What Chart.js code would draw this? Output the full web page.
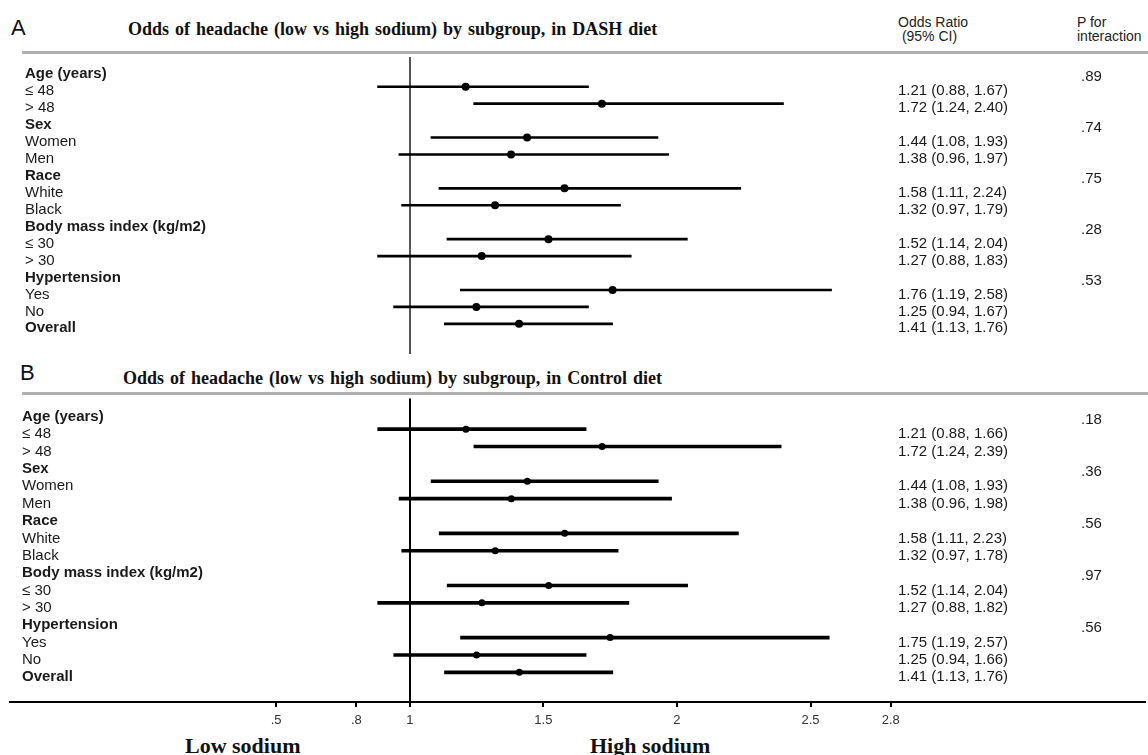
<!DOCTYPE html>
<html>
<head>
<meta charset="utf-8">
<script src="https://cdn.jsdelivr.net/npm/chart.js@4.4.1/dist/chart.umd.min.js"></script>
<style>
  body { margin: 0; background: #fff; width: 1148px; height: 755px; overflow: hidden; position: relative;
         font-family: "Liberation Sans", Arial, sans-serif; color: #111; }
  .abs { position: absolute; white-space: nowrap; }
  .letter { font-size: 22px; line-height: 22px; }
  .title { font-family: "Liberation Serif", "Times New Roman", serif; font-weight: bold; font-size: 18px;
           line-height: 18px; word-spacing: 1.5px; }
  .col { font-size: 14px; line-height: 14px; color: #222; }
  .rule { position: absolute; left: 22px; right: 0; height: 0; border-top: 3px solid #b0b0b0; }
  .side { font-family: "Liberation Serif", "Times New Roman", serif; font-weight: bold; font-size: 22px;
          line-height: 22px; text-decoration: underline; }
  #boxA { position: absolute; left: 0; top: 53px; }
  #boxB { position: absolute; left: 0; top: 395px; }
</style>
</head>
<body>
<div class="abs letter" style="left:11px; top:17px;">A</div>
<div class="abs title" style="left:128px; top:20px;">Odds of headache (low vs high sodium) by subgroup, in DASH diet</div>
<div class="abs col" style="left:898px; top:15px;">Odds Ratio<br>&nbsp;(95% CI)</div>
<div class="abs col" style="left:1077px; top:15px;">P for<br>interaction</div>
<div class="rule" style="top:51px;"></div>

<div class="abs letter" style="left:20px; top:362px;">B</div>
<div class="abs title" style="left:123px; top:369px;">Odds of headache (low vs high sodium) by subgroup, in Control diet</div>
<div class="rule" style="top:392px;"></div>

<div class="abs side" style="left:185px; top:735px;">Low sodium</div>
<div class="abs side" style="left:590px; top:735px;">High sodium</div>

<div id="boxA"><canvas id="chartA" width="1148" height="305"></canvas></div>
<div id="boxB"><canvas id="chartB" width="1148" height="340"></canvas></div>

<script>
// 행 라벨 (두 패널 공통)
const rowLabels = ['Age (years)', '≤ 48', '> 48', 'Sex', 'Women', 'Men', 'Race', 'White', 'Black',
  'Body mass index (kg/m2)', '≤ 30', '> 30', 'Hypertension', 'Yes', 'No', 'Overall'];
const boldRows = ['Age (years)', 'Sex', 'Race', 'Body mass index (kg/m2)', 'Hypertension', 'Overall'];

// A: DASH diet
const dashOR = [null, 1.21, 1.72, null, 1.44, 1.38, null, 1.58, 1.32, null, 1.52, 1.27, null, 1.76, 1.25, 1.41];
const dashLo = [null, 0.88, 1.24, null, 1.08, 0.96, null, 1.11, 0.97, null, 1.14, 0.88, null, 1.19, 0.94, 1.13];
const dashHi = [null, 1.67, 2.40, null, 1.93, 1.97, null, 2.24, 1.79, null, 2.04, 1.83, null, 2.58, 1.67, 1.76];
const dashP = ['.89', '', '', '.74', '', '', '.75', '', '', '.28', '', '', '.53', '', '', ''];

// B: Control diet
const ctrlOR = [null, 1.21, 1.72, null, 1.44, 1.38, null, 1.58, 1.32, null, 1.52, 1.27, null, 1.75, 1.25, 1.41];
const ctrlLo = [null, 0.88, 1.24, null, 1.08, 0.96, null, 1.11, 0.97, null, 1.14, 0.88, null, 1.19, 0.94, 1.13];
const ctrlHi = [null, 1.66, 2.39, null, 1.93, 1.98, null, 2.23, 1.78, null, 2.04, 1.82, null, 2.57, 1.66, 1.76];
const ctrlP = ['.18', '', '', '.36', '', '', '.56', '', '', '.97', '', '', '.56', '', '', ''];

// x축 눈금
const xTicks = [0.5, 0.8, 1, 1.5, 2, 2.5, 2.8];

const sans = '"Liberation Sans", Arial, sans-serif';

// 오른쪽 표 (OR, P) 그리기
const tablePlugin = {
  id: 'tableText',
  afterDraw(chart, args, opts) {
    const ctx = chart.ctx;
    const y = chart.scales.y;
    ctx.save();
    ctx.font = '15px ' + sans;
    ctx.fillStyle = '#1a1a1a';
    ctx.textBaseline = 'middle';
    ctx.textAlign = 'left';
    for (let i = 0; i < rowLabels.length; i++) {
      const py = y.getPixelForValue(i) + opts.offset;
      if (opts.or[i] != null) {
        const txt = opts.or[i].toFixed(2) + ' (' + opts.lo[i].toFixed(2) + ', ' + opts.hi[i].toFixed(2) + ')';
        ctx.fillText(txt, 898, py);
      }
      if (opts.p[i]) ctx.fillText(opts.p[i], 1081, py + 3);
    }
    ctx.restore();
  }
};

// 축 여백 제거
function noPad(s) {
  s.paddingLeft = 0; s.paddingRight = 0; s.paddingTop = 0; s.paddingBottom = 0;
}

function makePanel(id, or, lo, hi, p, cfg) {
  const bars = [];
  const points = [];
  for (let i = 0; i < rowLabels.length; i++) {
    if (or[i] == null) continue;
    bars.push({ x: [lo[i], hi[i]], y: i });
    points.push({ x: or[i], y: i });
  }
  return new Chart(document.getElementById(id), {
    type: 'bar',
    data: {
      datasets: [{
        type: 'bar',
        indexAxis: 'y',
        data: bars,
        backgroundColor: '#000',
        borderWidth: 0,
        barThickness: cfg.lineW
      }, {
        type: 'scatter',
        data: points,
        backgroundColor: '#000',
        borderWidth: 0,
        pointRadius: cfg.dot,
        pointHoverRadius: cfg.dot
      }]
    },
    options: {
      responsive: false,
      animation: false,
      events: [],
      layout: { padding: { left: 10, right: 0, top: 0, bottom: 0 } },
      plugins: {
        legend: { display: false },
        tooltip: { enabled: false },
        tableText: { or: or, lo: lo, hi: hi, p: p, offset: cfg.textOff }
      },
      scales: {
        x: {
          type: 'linear',
          offset: false,
          min: 1 - 401 / 268,
          max: 1 + 737 / 268,
          afterBuildTicks: s => { s.ticks = xTicks.map(v => ({ value: v })); },
          afterFit: s => { s.height = cfg.axisH; noPad(s); },
          grid: {
            offset: false,
            color: c => (c.tick && c.tick.value === 1) ? cfg.refColor : 'rgba(0,0,0,0)',
            lineWidth: 2,
            drawTicks: cfg.showAxis,
            tickLength: 5,
            tickColor: '#000',
            tickWidth: 2
          },
          border: { display: cfg.showAxis, color: '#000', width: 2 },
          ticks: {
            display: cfg.showAxis,
            autoSkip: false,
            maxRotation: 0,
            padding: 6,
            color: '#333',
            font: { family: sans, size: 13 },
            callback: v => (v < 1 ? String(v).replace('0.', '.') : String(v))
          }
        },
        y: {
          type: 'linear',
          offset: false,
          reverse: true,
          min: cfg.yMin,
          max: cfg.yMax,
          afterBuildTicks: s => { s.ticks = rowLabels.map((_, i) => ({ value: i })); },
          afterFit: s => { s.width = 0; noPad(s); },
          grid: { display: false, offset: false },
          border: { display: false },
          ticks: {
            mirror: true,
            autoSkip: false,
            padding: cfg.labelX,
            labelOffset: cfg.textOff,
            color: '#1a1a1a',
            callback: v => rowLabels[v],
            font: c => ({ family: sans, size: 15, weight: boldRows.includes(rowLabels[c.index]) ? 'bold' : 'normal' })
          }
        }
      }
    },
    plugins: [tablePlugin]
  });
}

makePanel('chartA', dashOR, dashLo, dashHi, dashP,
  { lineW: 2, dot: 4, refColor: '#555', showAxis: false, axisH: 0, yMin: -0.754, yMax: 16.78, textOff: 4.5, labelX: 15 });
makePanel('chartB', ctrlOR, ctrlLo, ctrlHi, ctrlP,
  { lineW: 3, dot: 3.5, refColor: '#000', showAxis: true, axisH: 33, yMin: -0.764, yMax: 16.707, textOff: 5, labelX: 12 });
</script>
</body>
</html>
